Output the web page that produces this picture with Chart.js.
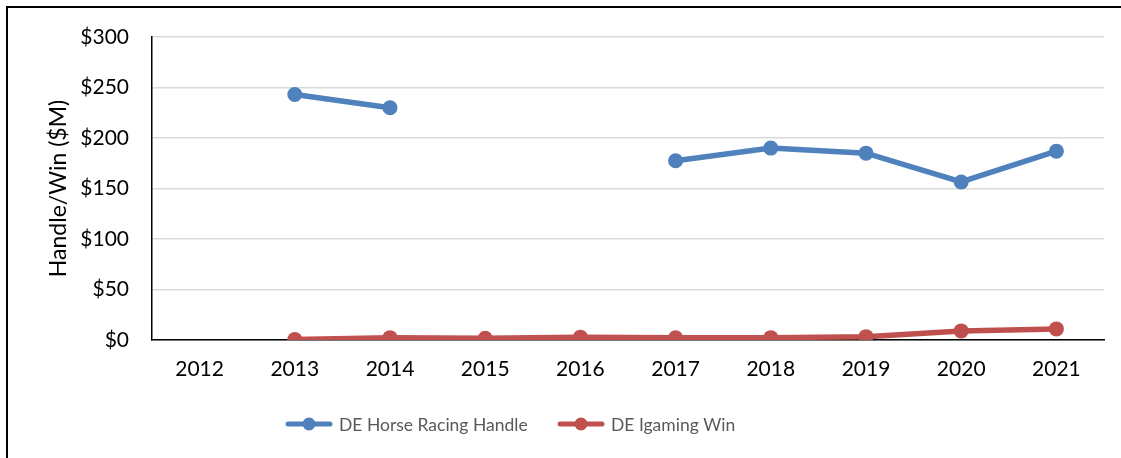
<!DOCTYPE html>
<html>
<head>
<meta charset="utf-8">
<script src="https://cdn.jsdelivr.net/npm/chart.js@4.4.1/dist/chart.umd.min.js"></script>
<style>
  html, body { margin: 0; padding: 0; background: #fff; }
  #wrap { position: relative; width: 1121px; height: 458px; overflow: hidden; }
  #frame { position: absolute; left: 6px; top: 6px; width: 1130px; height: 470px;
           border-top: 2px solid #000; border-left: 2px solid #000; box-sizing: border-box; pointer-events: none; }
  canvas { position: absolute; left: 0; top: 0; }
</style>
</head>
<body>
<div id="wrap">
  <canvas id="c" width="1121" height="458"></canvas>
  <div id="frame"></div>
</div>
<script>
const categories = ['2012','2013','2014','2015','2016','2017','2018','2019','2020','2021'];
const horseRacingHandle = [null, 243, 230, null, null, 177.5, 190, 185, 156.5, 187];
const igamingWin = [null, 0.5, 2.3, 1.8, 2.8, 2.2, 2.3, 3.3, 9, 11];
const seriesNames = ['DE Horse Racing Handle', 'DE Igaming Win'];
const seriesColors = ['#4f81bd', '#c0504d'];
const yTicks = [0, 50, 100, 150, 200, 250, 300];

const FONT = 'Lato, "Open Sans", sans-serif';

const legendPlugin = {
  id: 'lineLegend',
  afterDraw(chart) {
    const ctx = chart.ctx;
    const items = [
      { x: 286, name: seriesNames[0], color: seriesColors[0] },
      { x: 558, name: seriesNames[1], color: seriesColors[1] }
    ];
    const y = 424;
    ctx.save();
    items.forEach(it => {
      ctx.strokeStyle = it.color;
      ctx.lineWidth = 5;
      ctx.lineCap = 'round';
      ctx.beginPath();
      ctx.moveTo(it.x + 2, y);
      ctx.lineTo(it.x + 44, y);
      ctx.stroke();
      ctx.fillStyle = it.color;
      ctx.beginPath();
      ctx.arc(it.x + 23, y, 6.5, 0, Math.PI * 2);
      ctx.fill();
      ctx.fillStyle = '#595959';
      ctx.font = '17.5px ' + FONT;
      ctx.textBaseline = 'middle';
      ctx.textAlign = 'left';
      ctx.fillText(it.name, it.x + 53, y + 1);
    });
    ctx.restore();
  }
};

new Chart(document.getElementById('c'), {
  type: 'line',
  data: {
    labels: categories,
    datasets: [
      { label: seriesNames[0], data: horseRacingHandle, borderColor: seriesColors[0], backgroundColor: seriesColors[0],
        borderWidth: 5.5, pointRadius: 7.5, pointHoverRadius: 7.5, pointBorderWidth: 0, spanGaps: false, tension: 0 },
      { label: seriesNames[1], data: igamingWin, borderColor: seriesColors[1], backgroundColor: seriesColors[1],
        borderWidth: 5.5, pointRadius: 7.5, pointHoverRadius: 7.5, pointBorderWidth: 0, spanGaps: false, tension: 0 }
    ]
  },
  options: {
    responsive: false,
    animation: false,
    layout: { padding: { left: 10, right: 17, top: 37, bottom: 70 } },
    plugins: { legend: { display: false }, tooltip: { enabled: false } },
    scales: {
      x: {
        offset: true,
        grid: { display: false, drawTicks: false },
        border: { display: true, color: '#000', width: 1.5 },
        ticks: { color: '#000', font: { family: FONT, size: 21 }, padding: 17, maxRotation: 0 },
        afterFit(s) { s.height = 48; }
      },
      y: {
        min: 0, max: 300,
        afterBuildTicks(s) { s.ticks = yTicks.map(v => ({ value: v })); },
        grid: { color: '#d9d9d9', lineWidth: 1.5, drawTicks: false },
        border: { display: true, color: '#000', width: 1.5 },
        ticks: { color: '#000', font: { family: FONT, size: 21 }, padding: 23,
                 callback: v => '$' + v },
        title: { display: true, text: 'Handle/Win ($M)', color: '#000', font: { family: FONT, size: 23 }, padding: { top: 35, bottom: 0 } },
        afterFit(s) { s.width = 142; }
      }
    }
  },
  plugins: [legendPlugin]
});
</script>
</body>
</html>
